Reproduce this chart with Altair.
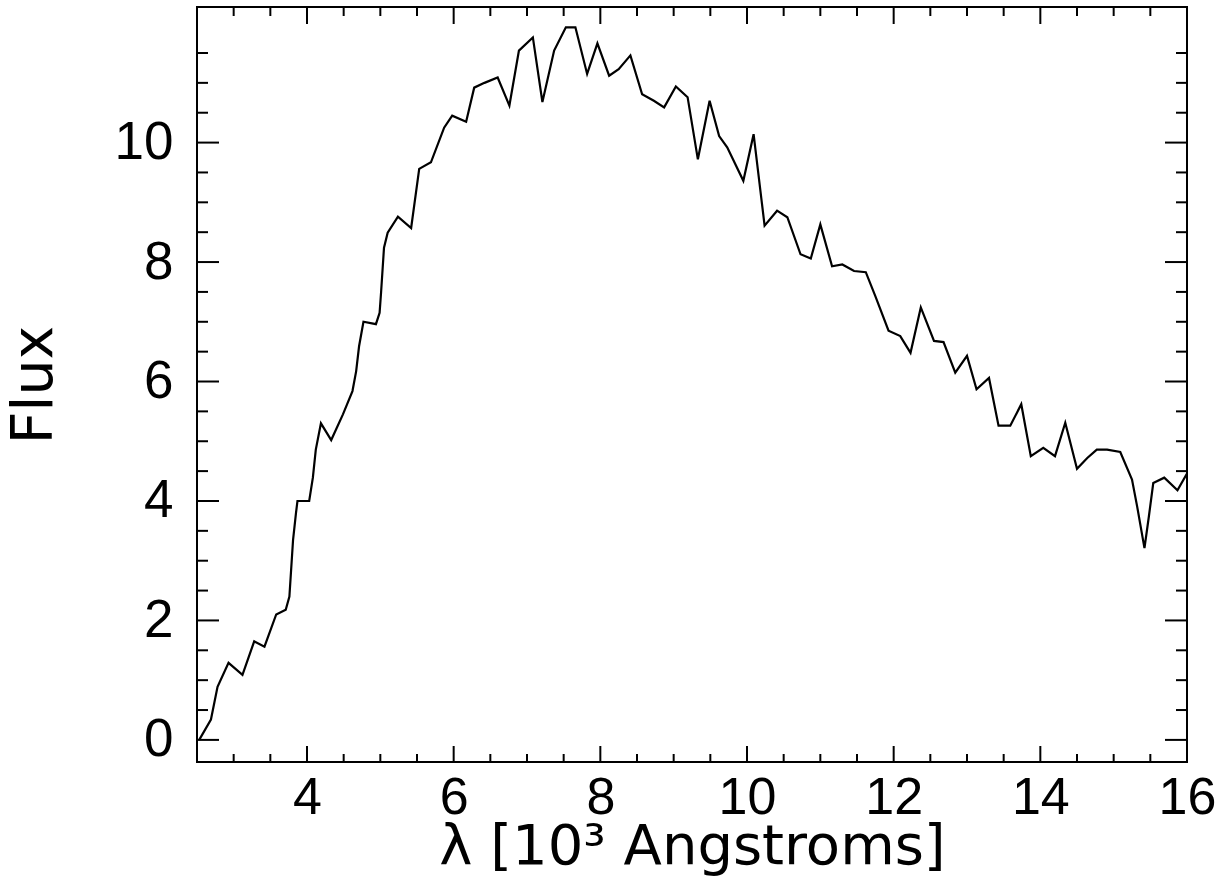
import altair as alt
import pandas as pd

# Spectrum (wavelength in 10^3 Angstroms, flux)
lam = [2.53, 2.69, 2.78, 2.93, 3.12, 3.28, 3.42, 3.58, 3.71, 3.76, 3.81, 3.85, 3.87,
       4.03, 4.08, 4.12, 4.19, 4.33, 4.49, 4.62, 4.67, 4.71, 4.77, 4.94, 4.99, 5.01,
       5.05, 5.10, 5.24, 5.42, 5.53, 5.69, 5.87, 5.98, 6.17, 6.28, 6.42, 6.60, 6.76,
       6.89, 7.08, 7.21, 7.37, 7.53, 7.66, 7.82, 7.96, 8.12, 8.25, 8.41, 8.57, 8.73,
       8.87, 9.03, 9.19, 9.33, 9.49, 9.62, 9.73, 9.95, 10.09, 10.24, 10.41, 10.55,
       10.73, 10.87, 11.00, 11.16, 11.30, 11.46, 11.62, 11.75, 11.93, 12.09, 12.23,
       12.37, 12.55, 12.68, 12.84, 13.00, 13.13, 13.30, 13.43, 13.59, 13.74, 13.87,
       14.04, 14.20, 14.34, 14.50, 14.64, 14.77, 14.91, 15.09, 15.25, 15.32, 15.42,
       15.48, 15.54, 15.69, 15.87, 16.00]
flux = [0.00, 0.34, 0.89, 1.29, 1.09, 1.65, 1.56, 2.10, 2.18, 2.40, 3.35, 3.80, 4.00,
        4.00, 4.39, 4.86, 5.30, 5.02, 5.45, 5.84, 6.17, 6.59, 7.00, 6.96, 7.15, 7.49,
        8.24, 8.49, 8.76, 8.57, 9.56, 9.67, 10.25, 10.45, 10.35, 10.92, 11.00, 11.09, 10.62,
        11.54, 11.76, 10.68, 11.54, 11.93, 11.93, 11.15, 11.66, 11.12, 11.23, 11.46, 10.81, 10.70,
        10.59, 10.94, 10.76, 9.72, 10.70, 10.11, 9.92, 9.36, 10.14, 8.61, 8.86, 8.75,
        8.13, 8.06, 8.63, 7.93, 7.96, 7.85, 7.83, 7.43, 6.85, 6.76, 6.48,
        7.24, 6.68, 6.66, 6.15, 6.43, 5.87, 6.06, 5.26, 5.26, 5.62, 4.75,
        4.89, 4.75, 5.31, 4.54, 4.72, 4.86, 4.86, 4.82, 4.36, 3.91, 3.21,
        3.74, 4.30, 4.39, 4.18, 4.46]

x_labels = [4, 6, 8, 10, 12, 14, 16]
x_major = [4, 6, 8, 10, 12, 14]
x_minor = [3.0, 3.5, 4.5, 5.0, 5.5, 6.5, 7.0, 7.5, 8.5, 9.0, 9.5, 10.5, 11.0, 11.5,
           12.5, 13.0, 13.5, 14.5, 15.0, 15.5]
y_labels = [0, 2, 4, 6, 8, 10]
y_minor = [0.5, 1.0, 1.5, 2.5, 3.0, 3.5, 4.5, 5.0, 5.5, 6.5, 7.0, 7.5, 8.5, 9.0, 9.5,
           10.5, 11.0, 11.5]

X_DOMAIN = [2.5, 16.0]
Y_DOMAIN = [-0.37, 12.27]
W, H = 990, 755

xs = alt.Scale(domain=X_DOMAIN, nice=False, zero=False)
ys = alt.Scale(domain=Y_DOMAIN, nice=False, zero=False)

x_axis = alt.Axis(values=x_labels, title="λ [10³ Angstroms]", grid=False,
                  ticks=False, tickSize=0, domain=False,
                  labelFont="Liberation Sans", labelFontSize=52,
                  labelColor="black", labelPadding=10, labelBaseline="top",
                  labelFlush=False, labelOverlap=False,
                  titleFont="DejaVu Sans", titleFontSize=56,
                  titleFontWeight="normal", titleColor="black",
                  titleBaseline="alphabetic", titleY=101)
y_axis = alt.Axis(values=y_labels, title="Flux", grid=False,
                  ticks=False, tickSize=0, domain=False,
                  labelFont="Liberation Sans", labelFontSize=53,
                  labelColor="black", labelPadding=24,
                  labelFlush=False, labelOverlap=False,
                  titleFont="DejaVu Sans", titleFontSize=57,
                  titleFontWeight="normal", titleColor="black",
                  titleBaseline="middle", titleAngle=270,
                  titleX=-163, titleY=H / 2)

df = pd.DataFrame({"lam": lam, "flux": flux})

line = alt.Chart(df).mark_line(color="black", strokeWidth=2.2, clip=True).encode(
    x=alt.X("lam:Q", scale=xs, axis=x_axis, title="λ [10³ Angstroms]"),
    y=alt.Y("flux:Q", scale=ys, axis=y_axis, title="Flux"),
)

def xticks(vals, length):
    d = pd.DataFrame({"lam": vals})
    bottom = alt.Chart(d).mark_rule(color="black", strokeWidth=2).encode(
        x=alt.X("lam:Q", scale=xs, axis=x_axis, title="λ [10³ Angstroms]"),
        y=alt.value(H), y2=alt.value(H - length))
    top = alt.Chart(d).mark_rule(color="black", strokeWidth=2).encode(
        x=alt.X("lam:Q", scale=xs, axis=x_axis, title="λ [10³ Angstroms]"),
        y=alt.value(0), y2=alt.value(length + 1))
    return [bottom, top]

def yticks(vals, length):
    d = pd.DataFrame({"flux": vals})
    left = alt.Chart(d).mark_rule(color="black", strokeWidth=2).encode(
        y=alt.Y("flux:Q", scale=ys, axis=y_axis, title="Flux"),
        x=alt.value(0), x2=alt.value(length))
    right = alt.Chart(d).mark_rule(color="black", strokeWidth=2).encode(
        y=alt.Y("flux:Q", scale=ys, axis=y_axis, title="Flux"),
        x=alt.value(W), x2=alt.value(W - length))
    return [left, right]

layers = ([line] + xticks(x_major, 16) + xticks(x_minor, 8)
          + yticks(y_labels, 22) + yticks(y_minor, 11))

chart = alt.layer(*layers).properties(
    width=W, height=H,
    autosize=alt.AutoSizeParams(type="none"),
    padding={"left": 197, "top": 7, "right": 40, "bottom": 117},
    background="white",
).configure_view(stroke="black", strokeWidth=2)

chart.save("out.html", embed_options={"renderer": "svg", "actions": False})
